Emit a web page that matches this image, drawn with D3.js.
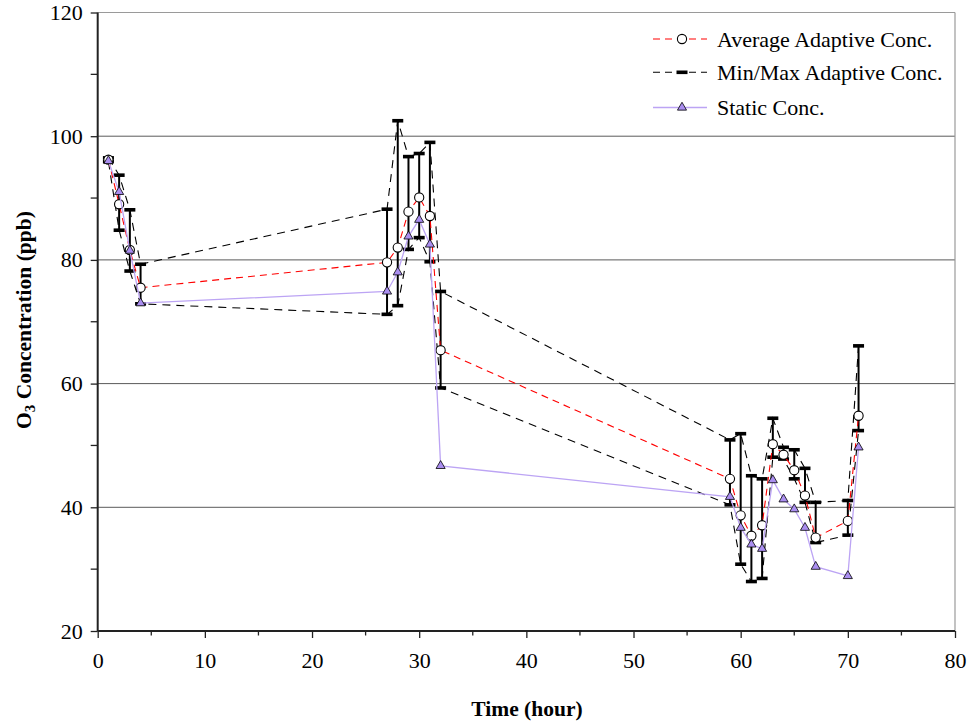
<!DOCTYPE html>
<html>
<head>
<meta charset="utf-8">
<script src="https://cdn.jsdelivr.net/npm/d3@7"></script>
<style>
  html, body { margin: 0; padding: 0; background: #fff; }
  svg { display: block; }
  text { font-family: "Liberation Serif", "Times New Roman", serif; fill: #000; }
</style>
</head>
<body>
<svg id="chart" width="971" height="723"></svg>
<script>
// ---- data ----
const hours = [1, 2, 3, 4, 27, 28, 29, 30, 31, 32, 59, 60, 61, 62, 63, 64, 65, 66, 67, 70, 71];
const avgConc = [96.2, 89.0, 81.6, 75.5, 79.6, 82.0, 87.8, 90.1, 87.1, 65.4, 44.6, 38.7, 35.4, 37.1, 50.2, 48.5, 46.0, 41.9, 35.1, 37.8, 54.8];
const maxConc = [96.5, 93.7, 88.1, 79.3, 88.2, 102.5, 96.7, 97.2, 99.0, 74.9, 50.9, 51.9, 45.1, 44.6, 54.4, 49.7, 49.3, 46.3, 40.8, 41.1, 66.1];
const minConc = [95.9, 84.8, 78.2, 72.9, 71.2, 72.6, 81.7, 83.6, 79.7, 59.3, 40.4, 30.8, 28.0, 28.5, 48.1, 47.8, 44.6, 40.8, 34.3, 35.5, 52.4];
const staticConc = [96.0, 91.0, 81.5, 73.0, 74.9, 78.0, 83.8, 86.5, 82.5, 46.7, 41.7, 36.7, 34.0, 33.3, 44.4, 41.3, 39.7, 36.7, 30.4, 28.9, 49.7];
const xTicks = [0, 10, 20, 30, 40, 50, 60, 70, 80];
const yTicks = [20, 40, 60, 80, 100, 120];
const gridValues = [40, 60, 80, 100];
const legendLabels = ["Average Adaptive Conc.", "Min/Max Adaptive Conc.", "Static Conc."];

// ---- layout ----
const svg = d3.select("#chart");
const L = 97.7, R = 955, T = 12.5, B = 631;
const x = d3.scaleLinear().domain([0, 80]).range([L, R]);
const y = d3.scaleLinear().domain([20, 120]).range([B, T]);

const redCol = "#ff0000";
const purpleLine = "#bca4f4";
const purpleFill = "#aa8ef0";

// gridlines
svg.append("g").selectAll("line").data(gridValues).join("line")
  .attr("x1", L).attr("x2", R)
  .attr("y1", d => y(d)).attr("y2", d => y(d))
  .attr("stroke", "#5a5a5a").attr("stroke-width", 1);

// plot border (top / right)
svg.append("line").attr("x1", L).attr("x2", R).attr("y1", y(120)).attr("y2", y(120))
  .attr("stroke", "#9a9a9a").attr("stroke-width", 1.2);
svg.append("line").attr("x1", R).attr("x2", R).attr("y1", y(120)).attr("y2", y(20))
  .attr("stroke", "#9a9a9a").attr("stroke-width", 1.2);

// axes
const yAxis = d3.axisLeft(y).tickValues(yTicks).tickSize(7).tickPadding(8).tickFormat(d3.format("d"));
const gy = svg.append("g").attr("transform", `translate(${L},0)`).call(yAxis);
// minor y ticks
svg.append("g").selectAll("line").data(d3.range(30, 120, 20)).join("line")
  .attr("x1", L - 7).attr("x2", L).attr("y1", d => y(d)).attr("y2", d => y(d))
  .attr("stroke", "#222").attr("stroke-width", 1.3);

const xAxis = d3.axisBottom(x).tickValues(xTicks).tickSize(7).tickPadding(14).tickFormat(d3.format("d"));
const gx = svg.append("g").attr("transform", `translate(0,${B})`).call(xAxis);
svg.append("g").selectAll("line").data(d3.range(5, 80, 10)).join("line")
  .attr("x1", d => x(d)).attr("x2", d => x(d)).attr("y1", B).attr("y2", B + 4.5)
  .attr("stroke", "#222").attr("stroke-width", 1.3);

[gx, gy].forEach(g => {
  g.attr("font-family", null);
  g.select(".domain").attr("stroke", "#222").attr("stroke-width", 2);
  g.selectAll(".tick line").attr("stroke", "#222").attr("stroke-width", 1.3);
  g.selectAll(".tick text").attr("font-family", "Liberation Serif").attr("font-size", 22).attr("fill", "#000");
});
gx.select(".domain").attr("d", `M${L},0H${R}`);
gy.select(".domain").attr("d", `M0,${y(120)}V${B}`);

// axis titles
svg.append("text").attr("x", 527).attr("y", 716).attr("text-anchor", "middle")
  .attr("font-size", 21.5).attr("font-weight", "bold").text("Time (hour)");
const yt = svg.append("text").attr("transform", "translate(31,320) rotate(-90)")
  .attr("text-anchor", "middle").attr("font-size", 21.5).attr("font-weight", "bold");
yt.append("tspan").text("O");
yt.append("tspan").attr("font-size", 15).attr("dy", 4).text("3");
yt.append("tspan").attr("dy", -4).text(" Concentration (ppb)");

// ---- series ----
const idx = d3.range(hours.length);
const lineOf = arr => d3.line().x(i => x(hours[i])).y(i => y(arr[i]));

// min/max dashed lines
svg.append("path").attr("d", lineOf(maxConc)(idx)).attr("fill", "none")
  .attr("stroke", "#000").attr("stroke-width", 1.1).attr("stroke-dasharray", "8,6");
svg.append("path").attr("d", lineOf(minConc)(idx)).attr("fill", "none")
  .attr("stroke", "#000").attr("stroke-width", 1.1).attr("stroke-dasharray", "8,6");

// vertical min-max bars
svg.append("g").selectAll("line").data(idx).join("line")
  .attr("x1", i => x(hours[i])).attr("x2", i => x(hours[i]))
  .attr("y1", i => y(maxConc[i])).attr("y2", i => y(minConc[i]))
  .attr("stroke", "#000").attr("stroke-width", 2);

// caps (min/max markers)
const capW = 11, capH = 3.6;
svg.append("g").selectAll("rect").data(idx.flatMap(i => [[i, maxConc[i]], [i, minConc[i]]])).join("rect")
  .attr("x", d => x(hours[d[0]]) - capW / 2).attr("y", d => y(d[1]) - capH / 2)
  .attr("width", capW).attr("height", capH).attr("fill", "#000");

// average line + circles
svg.append("path").attr("d", lineOf(avgConc)(idx)).attr("fill", "none")
  .attr("stroke", redCol).attr("stroke-width", 1.1).attr("stroke-dasharray", "7,5");
svg.append("g").selectAll("circle").data(idx).join("circle")
  .attr("cx", i => x(hours[i])).attr("cy", i => y(avgConc[i])).attr("r", 4.6)
  .attr("fill", "#fff").attr("stroke", "#000").attr("stroke-width", 1.1);

// static line + triangles
svg.append("path").attr("d", lineOf(staticConc)(idx)).attr("fill", "none")
  .attr("stroke", purpleLine).attr("stroke-width", 1.3);
const tri = d3.symbol().type(d3.symbolTriangle).size(36);
svg.append("g").selectAll("path").data(idx).join("path")
  .attr("d", tri).attr("transform", i => `translate(${x(hours[i])},${y(staticConc[i])})`)
  .attr("fill", purpleFill).attr("stroke", "#000").attr("stroke-width", 0.8);

// ---- legend ----
const legRows = [39, 72.3, 107.5];
const lx1 = 653, lx2 = 707, lm = 682, ltx = 717;
const lg = svg.append("g");
// row 0: average
lg.append("line").attr("x1", lx1).attr("x2", lx2).attr("y1", legRows[0]).attr("y2", legRows[0])
  .attr("stroke", redCol).attr("stroke-width", 1.1).attr("stroke-dasharray", "7,5");
lg.append("circle").attr("cx", lm).attr("cy", legRows[0]).attr("r", 4.6)
  .attr("fill", "#fff").attr("stroke", "#000").attr("stroke-width", 1.1);
// row 1: min/max
lg.append("line").attr("x1", lx1).attr("x2", lx2).attr("y1", legRows[1]).attr("y2", legRows[1])
  .attr("stroke", "#000").attr("stroke-width", 1.1).attr("stroke-dasharray", "7,5");
lg.append("rect").attr("x", lm - capW / 2).attr("y", legRows[1] - capH / 2)
  .attr("width", capW).attr("height", capH).attr("fill", "#000");
// row 2: static
lg.append("line").attr("x1", lx1).attr("x2", lx2).attr("y1", legRows[2]).attr("y2", legRows[2])
  .attr("stroke", purpleLine).attr("stroke-width", 1.3);
lg.append("path").attr("d", tri).attr("transform", `translate(${lm},${legRows[2]})`)
  .attr("fill", purpleFill).attr("stroke", "#000").attr("stroke-width", 0.8);
lg.selectAll("text.leg").data(legendLabels).join("text").attr("class", "leg")
  .attr("x", ltx).attr("y", (d, i) => legRows[i] + 7.5)
  .attr("font-size", 22).text(d => d);
</script>
</body>
</html>
